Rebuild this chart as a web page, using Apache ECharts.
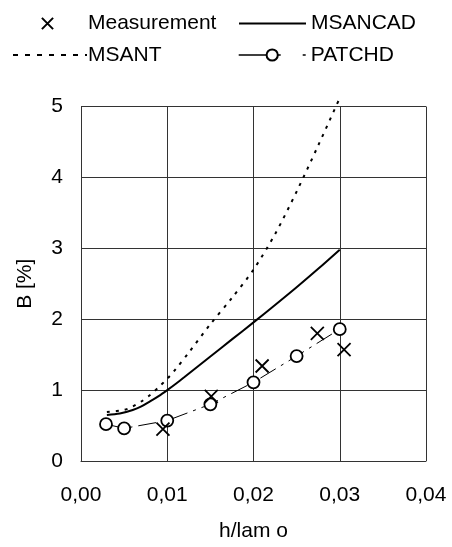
<!DOCTYPE html>
<html>
<head>
<meta charset="utf-8">
<script src="https://cdn.jsdelivr.net/npm/echarts@6/dist/echarts.min.js"></script>
<style>
html,body{margin:0;padding:0;background:#fff;}
#chart{width:452px;height:547px;}
</style>
</head>
<body>
<div id="chart"></div>
<script>
// Data
var seriesNames = ['Measurement', 'MSANCAD', 'MSANT', 'PATCHD'];
var measurement = [[0.0095,0.45],[0.0151,0.91],[0.0210,1.34],[0.0274,1.80],[0.0305,1.57]];
var msancad = [[0.003,0.65],[0.0045,0.67],[0.006,0.72],[0.007,0.77],[0.008,0.84],[0.009,0.915],[0.010,1.00],[0.011,1.09],[0.012,1.185],[0.015,1.475],[0.0175,1.715],[0.020,1.955],[0.0225,2.20],[0.025,2.45],[0.0275,2.71],[0.030,2.98]];
var msant = [[0.003,0.69],[0.005,0.72],[0.006,0.77],[0.007,0.84],[0.008,0.93],[0.009,1.04],[0.010,1.16],[0.011,1.30],[0.0125,1.53],[0.015,1.93],[0.0175,2.30],[0.020,2.70],[0.0225,3.20],[0.025,3.80],[0.0275,4.45],[0.030,5.12]];
var patchd = [[0.0029,0.52],[0.0050,0.46],[0.0100,0.57],[0.0150,0.80],[0.0200,1.11],[0.0250,1.48],[0.0300,1.86]];
var xTicks = {min:0, max:0.04, interval:0.01};
var yTicks = {min:0, max:5, interval:1};
var xName = 'h/lam o';
var yName = 'B [%]';

var FONT = '"Liberation Sans", Arial, sans-serif';
var FS = 21;
var crossPath = 'path://M0,0L10,10M10,0L0,10';

function legendAt(name, left, top, w, tp, lineStyle){
  var l = {
    data:[name], left:left, top:top, itemWidth:w, itemHeight:14, itemGap:0, padding:0,
    textStyle:{fontFamily:FONT, fontSize:FS, color:'#000', padding:[0,0,0,tp||0]},
    selectedMode:false
  };
  if (lineStyle) l.lineStyle = lineStyle;
  return l;
}

var chart = echarts.init(document.getElementById('chart'), null, {renderer:'canvas'});
chart.setOption({
  animation:false,
  backgroundColor:'#fff',
  legend:[
    legendAt(seriesNames[0], 12, 13, 71, 0),
    legendAt(seriesNames[1], 238, 13, 67, 0),
    legendAt(seriesNames[2], 12, 44.5, 74, -4, {color:'#000', width:2, type:[5,7]}),
    legendAt(seriesNames[3], 238, 44.5, 67, 0, {color:'#000', width:1.4, type:[42,22,5,100]})
  ],
  grid:{left:81, right:26, top:106.5, bottom:86, containLabel:false},
  xAxis:{
    type:'value', min:xTicks.min, max:xTicks.max, interval:xTicks.interval,
    name:xName, nameLocation:'middle', nameGap:60,
    nameTextStyle:{fontFamily:FONT, fontSize:FS, color:'#000'},
    axisLine:{show:true, onZero:false, lineStyle:{color:'#333', width:1}},
    axisTick:{show:false},
    splitLine:{show:true, lineStyle:{color:'#333', width:1}},
    axisLabel:{fontFamily:FONT, fontSize:FS, color:'#000', margin:24,
      formatter:function(v){return v.toFixed(2).replace('.', ',');}}
  },
  yAxis:{
    type:'value', min:yTicks.min, max:yTicks.max, interval:yTicks.interval,
    name:yName, nameLocation:'middle', nameGap:45,
    nameTextStyle:{fontFamily:FONT, fontSize:FS, color:'#000'},
    axisLine:{show:true, lineStyle:{color:'#333', width:1}},
    axisTick:{show:false},
    splitLine:{show:true, lineStyle:{color:'#333', width:1}},
    axisLabel:{fontFamily:FONT, fontSize:FS, color:'#000', margin:18}
  },
  series:[
    {
      name:seriesNames[0], type:'line', data:measurement, clip:false,
      symbol:crossPath, symbolSize:13,
      lineStyle:{opacity:0, width:0},
      itemStyle:{color:'transparent', borderColor:'#000', borderWidth:1.8},
      z:5
    },
    {
      name:seriesNames[1], type:'line', data:msancad, clip:false,
      smooth:0.3, showSymbol:false, symbol:'circle',
      lineStyle:{color:'#000', width:2, type:'solid'},
      itemStyle:{color:'transparent', borderWidth:0}
    },
    {
      name:seriesNames[2], type:'line', data:msant, clip:false,
      smooth:0.3, showSymbol:false, symbol:'circle',
      lineStyle:{color:'#000', width:2, type:[3,6]},
      itemStyle:{color:'transparent', borderWidth:0}
    },
    {
      name:seriesNames[3], type:'line', data:patchd, clip:false,
      symbol:'circle', symbolSize:12,
      lineStyle:{color:'#000', width:1, type:[18,6,3,6]},
      itemStyle:{color:'#fff', borderColor:'#000', borderWidth:1.8},
      z:4
    }
  ]
});
</script>
</body>
</html>
